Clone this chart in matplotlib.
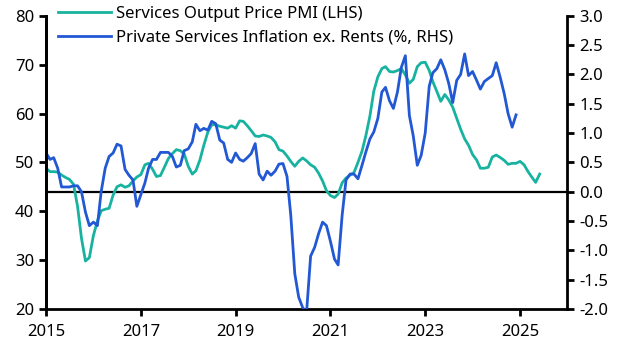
import matplotlib
matplotlib.use("Agg")
import matplotlib.pyplot as plt
import pandas as pd

plt.rcParams['font.family'] = ['Noto Sans', 'DejaVu Sans']
plt.rcParams['font.size'] = 12

# Services Output Price PMI (LHS), monthly from Jan 2015
pmi = [48.8, 48.1, 48.1, 48.0, 47.4, 46.9, 46.5, 45.5, 41.0, 34.5,
       29.8, 30.5, 35.0, 38.0, 40.1, 40.4, 40.6, 43.3, 45.0, 45.4,
       44.9, 45.2, 46.2, 47.0, 47.5, 49.5, 49.8, 48.6, 47.1, 47.3,
       49.0, 50.8, 51.8, 52.6, 52.4, 51.7, 49.2, 47.6, 48.3, 50.5,
       53.5, 56.2, 57.7, 57.7, 57.4, 57.2, 57.0, 57.5, 57.0, 58.5,
       58.4, 57.5, 56.5, 55.4, 55.3, 55.6, 55.4, 55.1, 54.2, 52.6,
       52.3, 51.3, 50.2, 49.2, 50.2, 50.9, 50.3, 49.5, 49.0, 47.8,
       46.2, 44.2, 43.2, 42.8, 43.5, 45.8, 46.8, 47.4, 47.9, 50.0,
       52.3, 55.5, 59.5, 64.6, 67.5, 69.2, 69.6, 68.6, 68.5, 68.8,
       69.2, 67.9, 66.2, 67.0, 69.6, 70.4, 70.5, 68.8, 66.5, 64.5,
       62.5, 63.9, 62.8, 61.3, 59.0, 56.8, 54.8, 53.5, 51.6, 50.5,
       48.8, 48.8, 49.0, 51.1, 51.5, 51.0, 50.4, 49.6, 49.8, 49.8,
       50.2, 49.5, 48.2, 47.0, 45.9, 47.6]

# Private Services Inflation ex. Rents (%, RHS), monthly from Jan 2015
infl = [0.66, 0.55, 0.58, 0.40, 0.08, 0.08, 0.08, 0.10, 0.10, 0.00,
        -0.35, -0.58, -0.52, -0.58, 0.00, 0.40, 0.60, 0.66, 0.81, 0.78,
        0.38, 0.28, 0.20, -0.25, -0.05, 0.15, 0.40, 0.55, 0.55, 0.67,
        0.67, 0.67, 0.60, 0.42, 0.45, 0.70, 0.73, 0.85, 1.15, 1.04,
        1.08, 1.05, 1.20, 1.16, 0.88, 0.83, 0.55, 0.50, 0.66, 0.55,
        0.52, 0.58, 0.65, 0.82, 0.30, 0.20, 0.35, 0.28, 0.35, 0.47,
        0.48, 0.26, -0.40, -1.40, -1.80, -1.98, -2.05, -1.10, -0.95, -0.72,
        -0.52, -0.58, -0.85, -1.15, -1.25, -0.40, 0.20, 0.30, 0.30, 0.22,
        0.45, 0.68, 0.90, 1.02, 1.25, 1.70, 1.78, 1.55, 1.42, 1.70,
        2.12, 2.32, 1.30, 0.95, 0.45, 0.62, 1.00, 1.80, 2.03, 2.10,
        2.25, 2.08, 1.85, 1.52, 1.90, 2.00, 2.35, 1.98, 2.05, 1.90,
        1.75, 1.88, 1.93, 1.98, 2.20, 1.95, 1.67, 1.33, 1.10, 1.31]

years = ['2015', '2017', '2019', '2021', '2023', '2025']

pmi_dates = pd.date_range("2015-01-01", periods=len(pmi), freq="MS")
infl_dates = pd.date_range("2015-01-01", periods=len(infl), freq="MS")

teal = '#17b3a0'
blue = '#2258d4'

fig, ax = plt.subplots(figsize=(6.27, 3.6), dpi=100)
fig.subplots_adjust(left=0.0734, right=0.905, bottom=0.142, top=0.956)
ax2 = ax.twinx()

l1, = ax.plot(pmi_dates, pmi, color=teal, lw=2, label='Services Output Price PMI (LHS)')
l2, = ax2.plot(infl_dates, infl, color=blue, lw=2, label='Private Services Inflation ex. Rents (%, RHS)')
ax.axhline(44, color='black', lw=1.6, zorder=1)

ax.set_ylim(20, 80)
ax2.set_ylim(-2.0, 3.0)
ax.set_xlim(pd.Timestamp("2015-01-01"), pd.Timestamp("2026-01-01"))
ax.set_yticks(range(20, 81, 10))
ax2.set_yticks([-2.0, -1.5, -1.0, -0.5, 0.0, 0.5, 1.0, 1.5, 2.0, 2.5, 3.0])
ax2.yaxis.set_major_formatter(matplotlib.ticker.FormatStrFormatter('%.1f'))
ax.set_xticks([pd.Timestamp(y + "-01-01") for y in years])
ax.set_xticklabels(years)

# spines: left, right and bottom only, drawn over the lines
for a in (ax, ax2):
    a.spines['top'].set_visible(False)
    for s in ('left', 'right', 'bottom'):
        a.spines[s].set_linewidth(2)
        a.spines[s].set_zorder(5)
    a.tick_params(width=2, length=5, labelsize=12)
ax.spines['right'].set_visible(False)
ax2.spines['bottom'].set_visible(False)
ax.tick_params(axis='x', pad=6)

ax.legend(handles=[l1, l2], loc='upper left', bbox_to_anchor=(0.0, 1.075),
          frameon=False, handlelength=3.2, handletextpad=0.3, labelspacing=0.5,
          borderaxespad=0.3, fontsize=12)

fig.savefig("out.png", dpi=100)
